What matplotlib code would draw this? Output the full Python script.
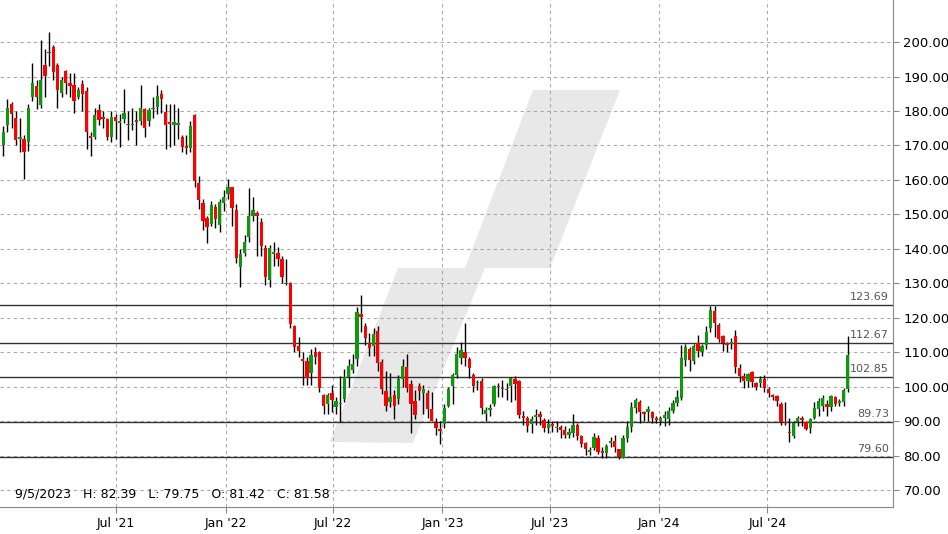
import matplotlib
matplotlib.use("Agg")
import matplotlib.pyplot as plt
import matplotlib.dates as mdates
from matplotlib.patches import Polygon
import numpy as np
import datetime as dt

opens = [170,176,182,178,172,171.9,171,184,187.2,181.7,193.3,197.2,198.6,193.3,185.2,191.6,188,187.5,184,187.8,
 185.8,172.8,172.4,180.3,178.2,177.7,172.4,178.2,176.6,177.7,175.8,175.8,177.4,177,180.6,177,180.6,181.1,185,179.7,
 176.7,176,176,172.4,169.7,169.2,178.8,159,153.3,149,147.2,152,146.9,153.3,155.9,157.9,151.3,134.7,138.8,143.4,
 149.5,150.4,147.8,140.2,130.9,138.6,138.8,137,129.8,130,117.6,111.8,107.9,107.4,104,110,110,97.6,95,98.1,
 94.1,95,96.4,102.8,104.8,108,121.1,117.6,112.7,111.8,116.1,107.1,98.7,95.5,97.6,96.4,102.2,105.7,100.8,95.8,
 100.2,98.1,98.1,93.5,89.4,87.6,89.2,94.4,100.2,103.4,108.3,110,108,103.4,101,101.6,92,93.2,95,100.2,
 99.3,99.2,100.2,102.2,101.6,91.5,90.9,89.2,91.2,92,90.3,88,89.2,88.1,88.3,87.4,86,86.5,88.9,85.7,
 83.6,81,82.2,85.1,81.3,80.7,83.6,84.2,81.9,79.3,85.1,88.3,93.8,95.5,92.6,92.6,92.6,90.9,90,90.9,
 90.6,92.9,95.2,96.7,107.7,110.9,107.4,112.7,110,112.1,117,121.9,117.9,114.7,112.7,112.4,114.7,105.4,103.1,101.6,
 104.2,101,101,102.2,99.3,97.6,97.3,95,89.7,86.8,85.7,89.7,90.9,89.7,87.9,90.9,93.5,94.4,95,94.1,
 97,95.2,95.5,99.3]
closes = [174,181,179,171.6,172.5,168.1,181,188,184,189,190.1,196.8,191.3,186,189,188,187.3,183,186,184.9,
 173.9,172.2,178.8,177.4,177.8,172.4,178.2,177,177,179.4,176.2,176.2,176.9,181,175,180.3,181,184.3,183.5,175.9,
 176.3,176.8,176.4,169.5,169.3,175.6,159.7,154.2,148,146.3,152.7,148.6,153.6,155,157.9,151.8,137.3,138.5,142,149.5,
 151.3,149.5,140.8,131.8,140.2,139,137,131.8,130.2,118.2,111.5,110.3,107.5,102.5,109.2,108.6,99.6,94.4,97.6,96.1,
 95.8,95.4,102.8,106,106.6,121.7,120.2,114.1,111.2,115.3,106.9,99.3,94.4,97,94.4,102.2,106,99.6,95,91.8,
 98.7,99.3,93.5,90,88,87.1,93.8,99.3,103.4,109.5,110.6,108.3,105.4,100.2,101.5,93.8,93.2,93.8,100.2,99.8,
 99.7,99.0,102.5,100.8,91.8,90.9,88.6,90.6,91.8,91.2,88,89.2,88.6,88.4,87.4,86,86.8,88.9,85.7,83.3,
 81.9,81.6,85.4,81,80.7,82.8,84.2,82.5,79.6,85.1,88.3,94.1,96.1,92.6,92.0,93.5,90.9,90.3,90.9,91.8,
 92.9,95.2,97,108.3,111.5,107.7,111.8,110.3,111.8,115.8,122.2,118.5,113.8,112.7,112,113,105.7,103.1,101.6,103.7,
 101.3,99.9,102.2,99.6,98.1,97,95.8,89.7,89.4,86.5,89.4,90.9,90.3,87.7,90.6,93.8,95.8,96.7,94.1,97.3,
 95,95.8,99,109.2]
highs = [175.6,183.5,182.5,180,178,173,182,194,189,200.6,198,203,199,194,190,192,191,191,187,189,
 187,174,181,182,180,178,180,179,179,186.4,180,181,180,187.5,181,181,184,187.5,186,182,
 182,182,181,173,173,177,179,161,154.5,149.5,154,153,154.5,157,160.2,158,153,140,144,157.6,
 155,151,149,141,141,142,140.5,138,137,130.5,118,114.5,110,108.5,111,111.5,110.5,98,98.3,100.5,
 97,103,105,108,109.5,123,126.6,118.5,115.5,117,117.5,108,104.5,104,99,103.5,108,109.5,102,99,
 101,100.5,99,98.5,91,90,95,100,104,111.5,113,118.5,108.5,104,102,102.5,94,95,100.5,101,
 102,101,102.8,103,102,93,91.5,91.5,93.5,93,91,90.5,90,90,89,88.5,88,92,89.5,86,
 84,82.5,86.5,86,82.5,83.5,85.5,86,82,86,90,95.5,96.6,96,93,94.5,93,91.5,91.5,93,
 94,96,99,112,112.5,111.5,112.5,115,112.5,117.5,123.5,123.5,118.5,115,113,114,116.5,106.5,104,104,
 104.5,101.5,103,103.5,99.8,98,97.5,95.5,95.5,91,90,91.5,91.5,90,91,95.5,96.7,97.5,96,97.5,
 97.3,96.5,99.5,114.7]
lows = [167,174,175,170,168,160.2,168.5,183,180.5,181,184,193,189,181,184,185,184,179.4,183.5,180,
 169,166.9,172,176,175,171.5,171,172,169.5,176.5,171.5,174.5,170,176,172.5,175.5,178,179,179.5,169,
 169.5,170,172,168,167.5,168,158,151.5,145.5,141.7,146.5,146,145,151,154.5,146.5,136,128.9,138,142,
 148,138,138,129.5,129,135,135,130,129.5,117,110,108.5,100.5,100.5,100.5,106.5,98.5,92,92,92.6,
 92,89.7,95.5,100,104,106,116,112,109,109,104.5,98,93,94,90.5,95,100,98.5,86.5,90.5,
 96,92,91,90,86,83.3,88,94,95,102.5,106.5,106,102.5,98.5,99,92,90,91.5,94.5,97,
 97,96,95.5,96,91,89,87,86.5,89,89,87,86.5,87,87,85,85,85,85.5,84.5,82.5,
 80.3,80.3,81.5,80.5,79.3,79.3,82.5,81,79,79.3,84,87,92.5,89.5,90,90,89.5,89.5,89,88.5,
 89,92.5,94.5,96,106,104.5,106.5,108.5,109,111,116,114.5,113,110.5,110,111,104,101.5,99.5,100,
 100,99,100,98.5,97,96,94.5,89,89,84,85,88.5,88.5,87.5,86.5,90.5,91.5,93,91.5,93,
 94.5,94.5,94.5,98.5]
levels = [123.69, 112.67, 102.85, 89.73, 79.60]
yticks = [70,80,90,100,110,120,130,140,150,160,170,180,190,200]
info_text = "9/5/2023   H: 82.39   L: 79.75   O: 81.42   C: 81.58"

start = dt.datetime(2020, 12, 23)
dates = [start + dt.timedelta(days=7*i) for i in range(len(closes))]
xd = mdates.date2num(dates)

fig = plt.figure(figsize=(9.48, 5.34), dpi=100)
ax = fig.add_axes([0.0, 27/534, 893/948, 507/534])

# watermark
pts = [(330,442),(398,268),(465,268),(533,90),(620,90),(550,268),(485,268),(413,443)]
ax.add_patch(Polygon([(x/948, 1-y/534) for x, y in pts], closed=True,
                     transform=fig.transFigure, facecolor='#e8e8e8', edgecolor='none', zorder=0.5))

for x, o, c, h, l in zip(xd, opens, closes, highs, lows):
    col = '#0a9a0a' if c >= o else '#ff0000'
    ax.vlines(x, l, h, color='black', lw=1, zorder=3)
    bot = min(o, c); ht = max(abs(c - o), 0.35)
    ax.bar(x, ht, bottom=bot, width=5.6, color=col, edgecolor='none', zorder=4)

x_end = mdates.date2num(start + dt.timedelta(days=7*213.9))
x_start = mdates.date2num(start - dt.timedelta(days=7*0.8))
for lv in levels:
    ax.axhline(lv, color='#333333', lw=1, zorder=2)
    ax.text(x_end - 7, lv + 0.8, f"{lv:.2f}", ha='right', va='bottom', fontsize=8, color='#555555', zorder=5)

ax.set_xlim(x_start, x_end)
ax.set_ylim(65.1, 212.2)
ax.yaxis.tick_right()
ax.set_yticks(yticks)
ax.set_yticklabels([f"{v:.2f}" for v in yticks], fontsize=9.5)
tick_dates = [dt.datetime(y, m, 1) for y in (2021, 2022, 2023, 2024) for m in (1, 7)][1:]
ax.set_xticks(mdates.date2num(tick_dates))
ax.set_xticklabels([d.strftime("%b '%y") for d in tick_dates], fontsize=9)
ax.tick_params(length=4, color='#888888')
ax.grid(True, color='#aaaaaa', ls=(0, (3, 3)), lw=0.8, zorder=1)
for s in ['top', 'left']:
    ax.spines[s].set_visible(False)
ax.spines['right'].set_color('#888888')
ax.spines['bottom'].set_color('#888888')

ax.text(0.017, 0.012, info_text, transform=ax.transAxes, fontsize=9, ha='left', va='bottom', zorder=5)

fig.savefig("out.png", dpi=100)
